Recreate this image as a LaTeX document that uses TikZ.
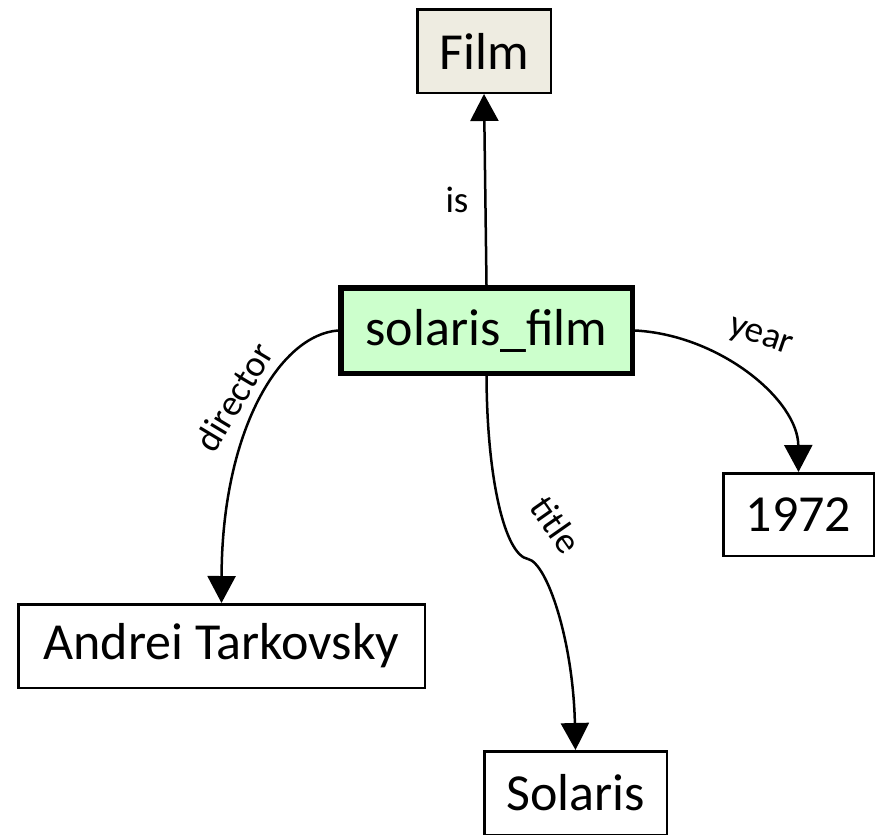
\documentclass[tikz,border=0pt]{standalone}
\usepackage{fontspec}
\setmainfont{Carlito}
\usetikzlibrary{arrows.meta}
\definecolor{filmfill}{HTML}{EEECE1}
\definecolor{greenfill}{HTML}{CCFFCC}
\tikzset{
  box/.style={draw=black, line width=2.5pt, fill=white, inner sep=0pt,
    font=\fontsize{52}{60}\selectfont},
  classbox/.style={box, fill=filmfill},
  mainbox/.style={box, fill=greenfill, line width=5.5pt},
  arr/.style={line width=2.5pt, -{Triangle[length=27pt,width=28pt]}},
  lbl/.style={font=\fontsize{37}{44}\selectfont, inner sep=0pt}
}
\begin{document}
\begin{tikzpicture}[x=1pt,y=-1pt]
\useasboundingbox (0,0) rectangle (881,835);
\node[classbox, minimum width=133.5pt, minimum height=83.5pt] (film) at (484,51) {Film};
\node[mainbox, minimum width=291.5pt, minimum height=85.5pt] (sf) at (486.5,330.5) {solaris\_film};
\node[box, minimum width=150.5pt, minimum height=82.5pt] (year) at (798.5,514.5) {1972};
\node[box, minimum width=406.5pt, minimum height=83.5pt] (andrei) at (221.5,646) {Andrei Tarkovsky};
\node[box, minimum width=182.5pt, minimum height=83.5pt] (solaris) at (575.5,793) {Solaris};

\draw[arr] (sf.north) -- (film.south);
\draw[arr] (sf.west) .. controls (280,335) and (222,430) .. (andrei.north);
\draw[arr] (sf.east) .. controls (720,335) and (798,400) .. (year.north);
\coordinate (kink) at (528,559);
\draw[line width=2.5pt] (sf.south) .. controls (487,480) and (505,555) .. (kink);
\draw[arr] (kink) .. controls (547,563) and (573,640) .. (solaris.north);

\node[lbl] (lis) at (457,200) {is};
\node[lbl, rotate=59] (ldir) at (234,397) {director};
\node[lbl, rotate=-55] (ltitle) at (556,525) {title};
\node[lbl, rotate=-19] (lyear) at (760,338) {year};
\end{tikzpicture}
\end{document}
